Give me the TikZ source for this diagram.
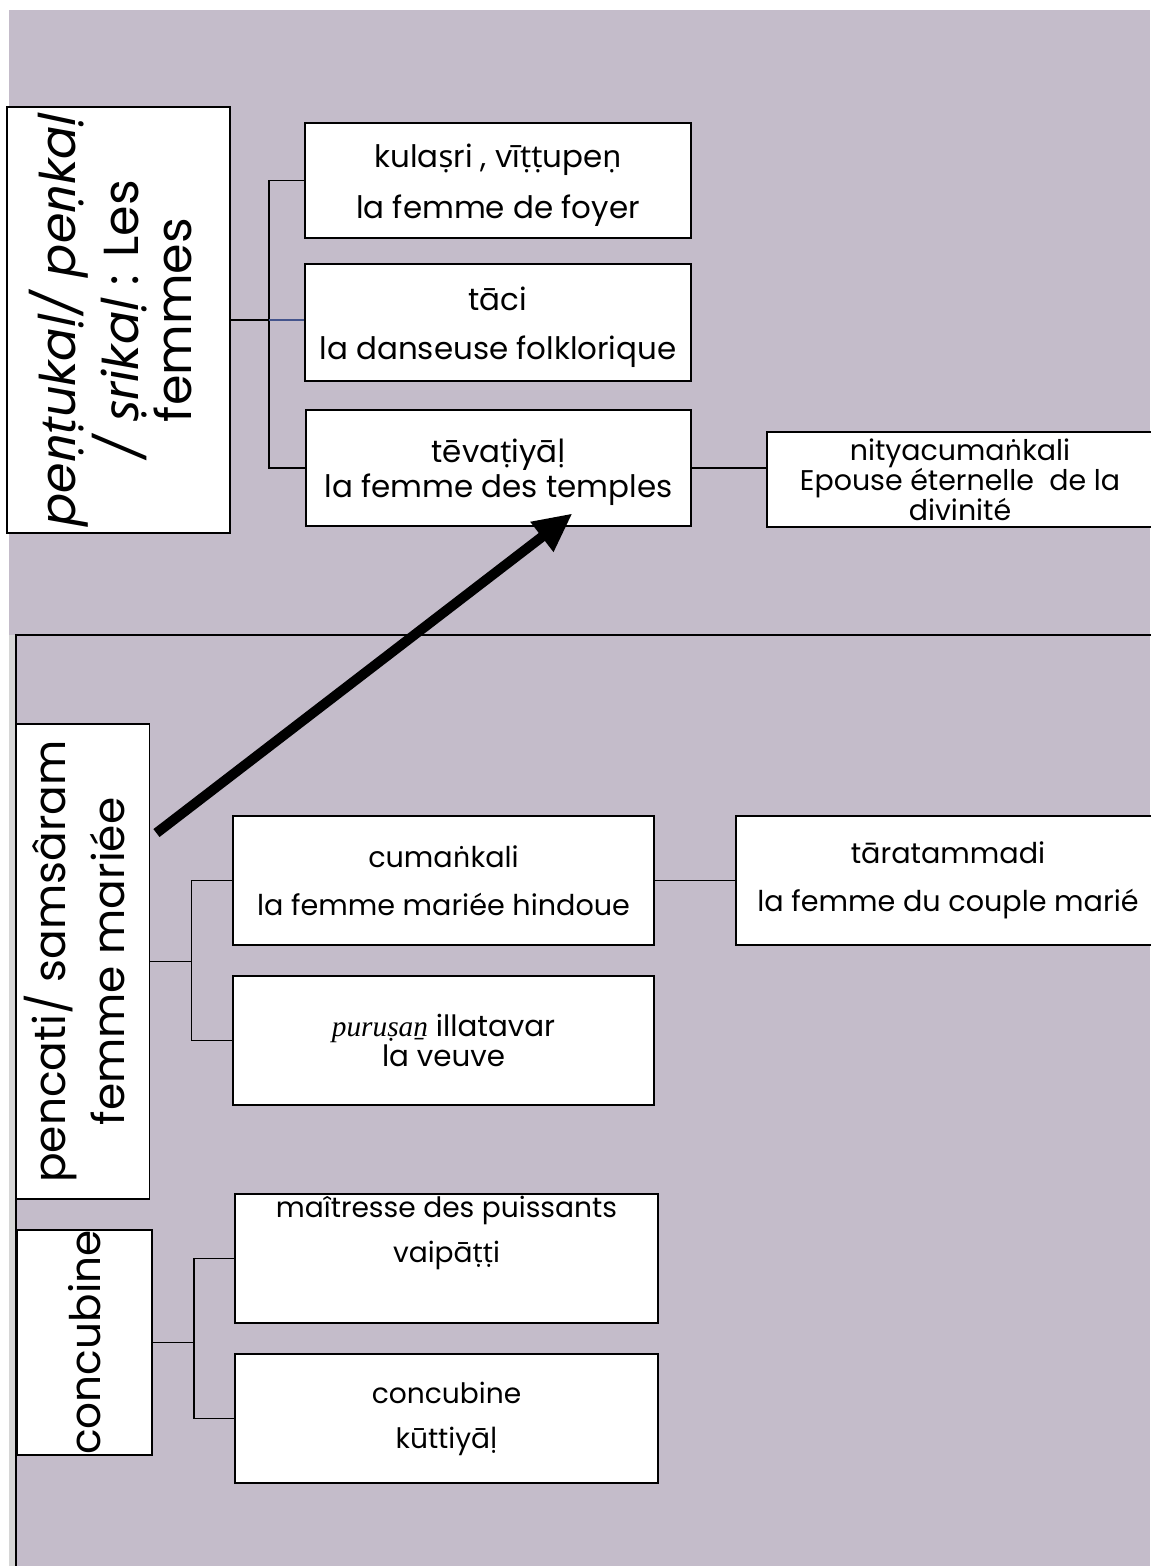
\documentclass[tikz,border=0pt]{standalone}
\usepackage{fontspec}
\setmainfont{Poppins}
\newfontfamily\romanit{Liberation Serif}
\newfontfamily\iastfont{Noto Sans}
\usepackage{tikz}
\usetikzlibrary{arrows.meta, calc}
\definecolor{mylav}{RGB}{196,188,202}
\definecolor{mystrip}{RGB}{214,214,214}
\definecolor{myblue}{RGB}{68,84,140}
\newcommand{\pxu}{0.02cm}
\newcommand{\fsz}[2]{\fontsize{#1}{#2}\selectfont}
% letters with dots that Poppins does not have
\newcommand{\ia}[1]{{\iastfont #1}}
% taller first line, pushes the text a little down
\newcommand{\lowr}[1]{\rule{0pt}{#1em}}
\tikzset{
  box/.style={rectangle, draw=black, fill=white, line width=1.6pt,
    align=center, inner sep=0pt},
  thinbox/.style={box, line width=1.1pt},
  wh/.style 2 args={minimum width=#1*\pxu, minimum height=#2*\pxu},
  link/.style={line width=1.1pt, color=black},
  bluelink/.style={line width=0.9pt, color=myblue},
  bigarrow/.style={-{Triangle[length=22pt, width=20pt]}, line width=5.7pt},
  frameline/.style={line width=0.6pt}
}

\begin{document}
\begin{tikzpicture}[x=0.02cm, y=-0.02cm]
  \useasboundingbox (0,0) rectangle (1150,1566);
  % background
  \fill[white] (0,0) rectangle (1150,1566);
  \fill[mylav] (9,10) rectangle (1150,635);
  \fill[mystrip] (9,635) rectangle (16,1566);
  \fill[mylav] (16,635) rectangle (1150,1566);
  \draw[frameline] (16,1570) -- (16,635) -- (1160,635);

  % upper part
  \node[box, wh={223}{426}] (femmes) at (118.5,320)
    {\rotatebox{90}{\fsz{28}{30}\begin{tabular}{@{}c@{}}{\itshape pe\ia{ṇṭ}uka\ia{ḷ}/ pe\ia{ṇ}ka\ia{ḷ}}\\
    {\itshape / \ia{ṣ}rika\ia{ḷ}} : Les\\ femmes\end{tabular}}};
  \node[box, wh={386}{115}, font=\fsz{17.6}{29}] (kulasri) at (498,180.5)
    {\lowr{1.05}kula\ia{ṣ}ri , vī\ia{ṭṭ}upe\ia{ṇ}\\la femme de foyer};
  \node[box, wh={386}{117}, font=\fsz{17.6}{28}] (taci) at (498,322.5)
    {\lowr{1.05}tāci\\la danseuse folklorique};
  \node[box, wh={385}{116}, font=\fsz{17.6}{20}] (tevadiyal) at (498.5,468)
    {\lowr{1.05}tēva\ia{ṭ}iyā\ia{ḷ}\\la femme des temples};
  \node[box, wh={386}{95}, font=\fsz{16.2}{17}] (nitya) at (960,479.5)
    {nityacuma\ia{ṅ}kali\\Epouse éternelle~ de la\\divinité};

  % lower part
  \node[thinbox, wh={133}{475}] (pencati) at (83,961.5)
    {\rotatebox{90}{\fsz{25}{34}\begin{tabular}{@{}c@{}}pencati/ samsâram\\
    femme mariée\end{tabular}}};
  \node[thinbox, wh={135}{221}] (concubl) at (84.5,1342.5)
    {\rotatebox{90}{\fsz{24}{30}concubine}};
  \node[box, wh={421}{129}, font=\fsz{16.3}{27}] (cumankali) at (443.5,880.5)
    {cuma\ia{ṅ}kali\\la femme mariée hindoue};
  \node[box, wh={424}{129}, font=\fsz{16.3}{27}] (tara) at (948,880.5)
    {tāratammadi\\la femme du couple marié};
  \node[box, wh={421}{129}, font=\fsz{16.7}{17}] (purusan) at (443.5,1040.5)
    {{\romanit\itshape puruṣaṉ} illatavar\\la veuve};
  \node[box, wh={423}{129}, font=\fsz{16}{25.6}] (maitresse) at (446.5,1258.5)
    {maîtresse des puissants\\vaipā\ia{ṭṭ}i\\ \strut};
  \node[box, wh={423}{129}, font=\fsz{16}{25.6}] (kuttiyal) at (446.5,1418.5)
    {concubine\\kūttiyā\ia{ḷ}};

  % connectors
  \coordinate (fj) at ($(femmes.east)+(38,0)$);
  \draw[link] (femmes.east) -- (fj);
  \draw[link] (kulasri.west) -| (fj);
  \draw[link] (tevadiyal.west) -| (fj);
  \draw[bluelink] (fj) -- (fj -| taci.west);
  \draw[link] (tevadiyal.east) -- (tevadiyal.east -| nitya.west);

  \coordinate (pj) at ($(pencati.east)+(41,0)$);
  \draw[link] (pencati.east) -- (pj);
  \draw[link] (cumankali.west) -| (pj);
  \draw[link] (purusan.west) -| (pj);
  \draw[link] (cumankali.east) -- (tara.west);

  \coordinate (cj) at ($(concubl.east)+(41,0)$);
  \draw[link] (concubl.east) -- (cj);
  \draw[link] (maitresse.west) -| (cj);
  \draw[link] (kuttiyal.west) -| (cj);

  \draw[bigarrow] ($(pencati.north east)+(6,110)$) -- ($(tevadiyal.south)+(74,-14)$);
\end{tikzpicture}
\end{document}
